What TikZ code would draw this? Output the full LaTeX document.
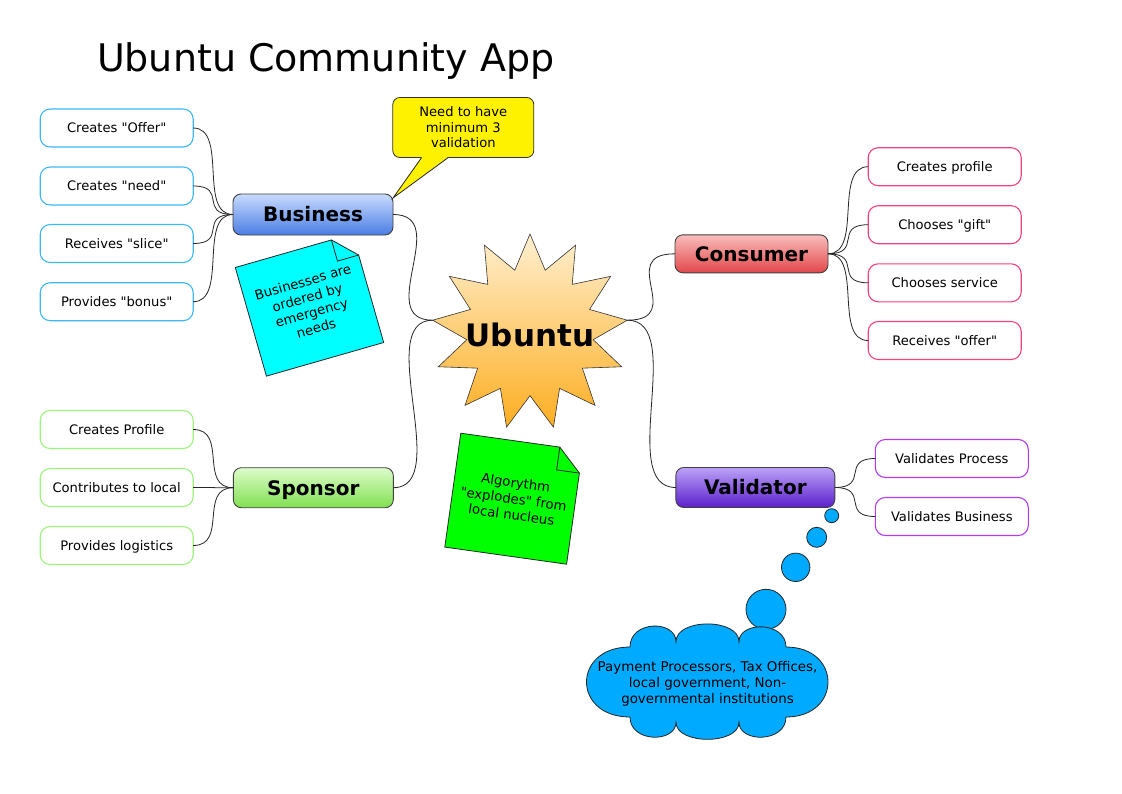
\documentclass[tikz,border=0pt]{standalone}
\usepackage{fontspec}
\setmainfont{DejaVu Sans}[Ligatures=TeXOff]
\usetikzlibrary{shapes.geometric}
\definecolor{bizT}{HTML}{C9DBFD}
\definecolor{bizB}{HTML}{4A7DE3}
\definecolor{spoT}{HTML}{DDFCCB}
\definecolor{spoB}{HTML}{80E050}
\definecolor{conT}{HTML}{F9BDBD}
\definecolor{conB}{HTML}{E2474B}
\definecolor{valT}{HTML}{BBA2F7}
\definecolor{valB}{HTML}{5B1ECB}
\definecolor{bizL}{HTML}{3DB8F5}
\definecolor{conL}{HTML}{F5417D}
\definecolor{spoL}{HTML}{9CF37C}
\definecolor{valL}{HTML}{B33CF2}
\definecolor{starT}{HTML}{FFEFD0}
\definecolor{starB}{HTML}{FDAE21}
\definecolor{cloudB}{HTML}{00AAFF}
\definecolor{noteCyan}{HTML}{00FFFF}
\definecolor{noteGreen}{HTML}{00FF00}
\begin{document}
\begin{tikzpicture}[x=1pt,y=-1pt,
  every node/.style={inner sep=0pt,outer sep=0pt},
  branch/.style={rectangle,rounded corners=8pt,draw=black!75,line width=0.9pt,minimum height=40pt,text height=14.6pt,text depth=0pt,font=\bfseries\fontsize{20}{24}\selectfont},
  leaf/.style={rectangle,rounded corners=10pt,fill=white,line width=1.1pt,minimum width=153pt,minimum height=38pt,text height=9.6pt,text depth=0pt,font=\fontsize{13.1}{16}\selectfont},
  conn/.style={draw=black!85,line width=0.8pt,to path={.. controls +(#1,0) and +(-#1,0) .. (\tikztotarget) \tikztonodes}},
  conn/.default=35,
  notetext/.style={align=center,font=\fontsize{13.3}{16}\selectfont},
  bubble/.style={circle,draw=black!85,line width=0.8pt,fill=cloudB},
  outline/.style={draw=black!85,line width=0.8pt},
]
\useasboundingbox (0,0) rectangle (1122,793);
\fill[white] (0,0) rectangle (1122,793);

% title
\node[anchor=base west,font=\fontsize{38}{45}\selectfont] (title) at (97,71) {Ubuntu Community App};

% central star
\node[star,star points=13,star point ratio=1.54,minimum size=196pt,draw=black!80,line width=0.6pt,top color=starT,bottom color=starB] (hub) at (530,332) {};
\coordinate (hubL) at (hub.outer point 4);
\coordinate (hubR) at (hub.outer point 11);
\node[font=\bfseries\fontsize{31}{36}\selectfont] (hubtext) at (530,334.7) {Ubuntu};

% branches
\node[branch,minimum width=160pt,minimum height=41pt,top color=bizT,bottom color=bizB] (biz) at (313,214.5) {Business};
\node[branch,minimum width=160pt,top color=spoT,bottom color=spoB] (spo) at (313.3,487.7) {Sponsor};
\node[branch,minimum width=153pt,minimum height=38pt,top color=conT,bottom color=conB] (con) at (751.5,253.8) {Consumer};
\node[branch,minimum width=159pt,top color=valT,bottom color=valB] (val) at (755.3,487.5) {Validator};

% leaves
\node[leaf,draw=bizL] (bz1) at (116.7,128) {Creates "Offer"};
\node[leaf,draw=bizL] (bz2) at (116.7,186) {Creates "need"};
\node[leaf,draw=bizL] (bz3) at (116.7,243.5) {Receives "slice"};
\node[leaf,draw=bizL] (bz4) at (116.7,301.7) {Provides "bonus"};
\node[leaf,draw=spoL] (sp1) at (116.7,429.5) {Creates Profile};
\node[leaf,draw=spoL] (sp2) at (116.7,487.5) {Contributes to local};
\node[leaf,draw=spoL] (sp3) at (116.7,545.5) {Provides logistics};
\node[leaf,draw=conL] (cn1) at (944.7,166.7) {Creates profile};
\node[leaf,draw=conL] (cn2) at (944.7,224.7) {Chooses "gift"};
\node[leaf,draw=conL] (cn3) at (944.7,282.8) {Chooses service};
\node[leaf,draw=conL] (cn4) at (944.7,340.5) {Receives "offer"};
\node[leaf,draw=valL] (vl1) at (951.8,458.5) {Validates Process};
\node[leaf,draw=valL] (vl2) at (951.8,516.5) {Validates Business};

% connectors
\foreach \n in {bz1,bz2,bz3,bz4} \draw[conn] (\n.east) to (biz.west);
\foreach \n in {sp1,sp2,sp3} \draw[conn] (\n.east) to (spo.west);
\foreach \n in {cn1,cn2,cn3,cn4} \draw[conn] (con.east) to (\n.west);
\foreach \n in {vl1,vl2} \draw[conn] (val.east) to (\n.west);
\draw[conn=60] (biz.east) to (hubL);
\draw[conn=60] (spo.east) to (hubL);
\draw[conn=60] (hubR) to (con.west);
\draw[conn=60] (hubR) to (val.west);

% yellow callout
\node[draw=black!80,fill=yellow,rounded corners=7pt,line width=0.8pt,minimum width=141pt,minimum height=60pt,align=center,font=\fontsize{13.1}{15.5}\selectfont] (callbox) at (463.3,127.5) {Need to have\\minimum 3\\validation};
\coordinate (calltip) at ([yshift=-4pt]biz.north east);
\fill[yellow] (421.7,156.9) -- (448.3,156.9) -- (calltip) -- cycle;
\draw[outline] (421.7,157.5) -- (calltip) -- (448.3,157.5);

% cyan note
\begin{scope}[shift={(309.5,305)},rotate=16]
  \filldraw[outline,fill=noteCyan] (-61,-56.5) -- (39,-56.5) -- (61,-34.5) -- (61,56.5) -- (-61,56.5) -- cycle;
  \draw[outline] (39,-56.5) -- (39,-34.5) -- (61,-34.5);
  \node[notetext,rotate=16] (cyannote) at (0,0) {Businesses are\\ordered by\\emergency\\needs};
\end{scope}

% green note
\begin{scope}[shift={(513.7,498.7)},rotate=-8]
  \filldraw[outline,fill=noteGreen] (-61.5,-57.5) -- (38.5,-57.5) -- (61.5,-34.5) -- (61.5,57.5) -- (-61.5,57.5) -- cycle;
  \draw[outline] (38.5,-57.5) -- (38.5,-34.5) -- (61.5,-34.5);
  \node[notetext,rotate=-8] (greennote) at (0,0) {Algorythm\\"explodes" from\\local nucleus};
\end{scope}

% thought bubbles
\node[bubble,minimum size=14pt] (b1) at (831.7,515.7) {};
\node[bubble,minimum size=20pt] (b2) at (816.7,537.3) {};
\node[bubble,minimum size=28.4pt] (b3) at (795.7,567.3) {};
\node[bubble,minimum size=40pt] (b4) at (766,609.3) {};

% cloud
\filldraw[outline,fill=cloudB]
  (630,647) .. controls (630,620) and (676,620) .. (676,641.7)
  .. controls (676,618) and (739,618) .. (739,641.7)
  .. controls (739,621) and (786,621) .. (786,647)
  .. controls (842,647) and (842,717) .. (786,717)
  .. controls (786,743) and (739,743) .. (739,722.3)
  .. controls (739,745) and (676,745) .. (676,722.3)
  .. controls (676,743) and (630,743) .. (630,717)
  .. controls (572,717) and (572,647) .. (630,647) -- cycle;
\node[align=center,font=\fontsize{13.4}{16}\selectfont] (cloudtext) at (707.5,683.5) {Payment Processors, Tax Offices,\\local government, Non-\\governmental institutions};
\end{tikzpicture}
\end{document}
